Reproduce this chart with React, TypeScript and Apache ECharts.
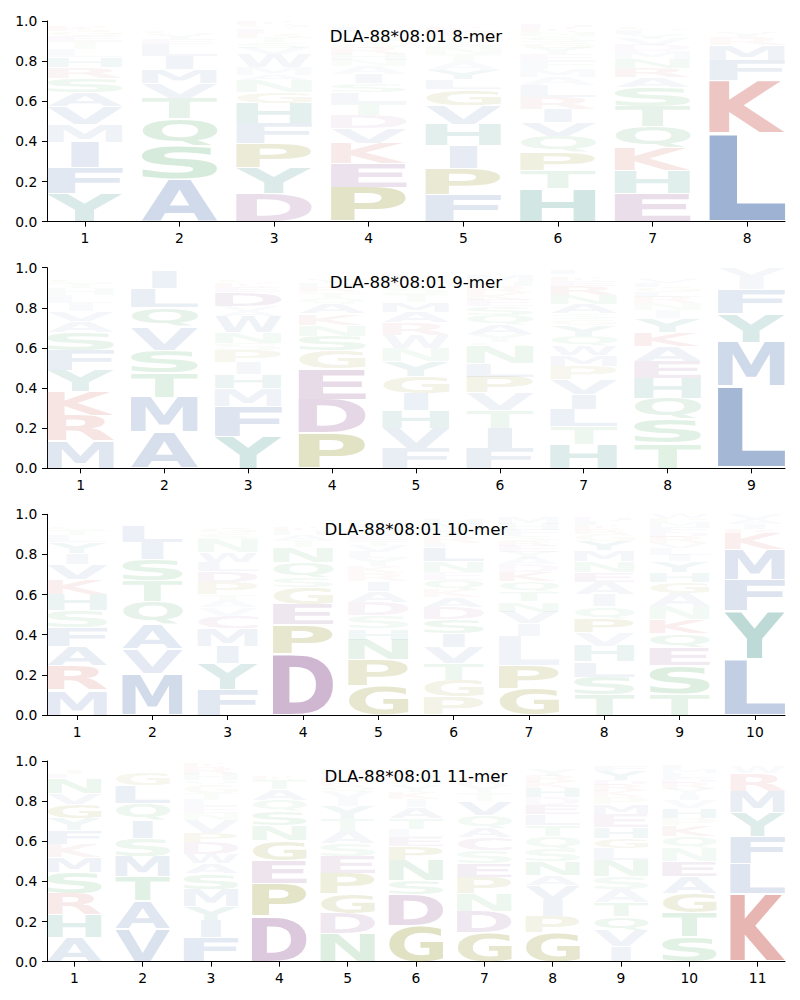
import React, { useEffect, useRef } from "react";
import * as echarts from "echarts";

const ALLELE = "DLA-88*08:01";
const PEPTIDE_LENGTHS = [8, 9, 10, 11];
const Y_TICKS = [0, 0.2, 0.4, 0.6, 0.8, 1.0];

// Letters of each position, stacked bottom -> top, with their heights (frequencies)
const mer8Letters = [
  "YFIMVASRHLTEGKNQ",
  "ASQTVMILEYGFND",
  "DYPFHGNAMWVSTREQK",
  "PEKVDTLSIANHRGQYMFWC",
  "FPIHVGLYATNSQEKRD",
  "HTPQVIRLAMFEYGSNKDC",
  "EHKQTSARNMDVYLGIFW",
  "LKFMRYIVAHWS",
];
const mer8Heights = [
  [0.14, 0.13, 0.125, 0.09, 0.09, 0.07, 0.07, 0.055, 0.05, 0.04, 0.04, 0.025, 0.025, 0.025, 0.015, 0.01],
  [0.21, 0.17, 0.135, 0.10, 0.075, 0.07, 0.065, 0.06, 0.025, 0.025, 0.02, 0.015, 0.015, 0.015],
  [0.14, 0.13, 0.12, 0.10, 0.10, 0.055, 0.06, 0.025, 0.04, 0.065, 0.03, 0.03, 0.025, 0.02, 0.02, 0.02, 0.02],
  [0.17, 0.12, 0.10, 0.075, 0.065, 0.06, 0.055, 0.045, 0.045, 0.04, 0.03, 0.03, 0.03, 0.025, 0.02, 0.02, 0.02, 0.02, 0.015, 0.015],
  [0.135, 0.13, 0.115, 0.105, 0.095, 0.08, 0.05, 0.045, 0.04, 0.04, 0.035, 0.03, 0.025, 0.025, 0.02, 0.015, 0.015],
  [0.165, 0.09, 0.09, 0.08, 0.07, 0.065, 0.06, 0.06, 0.04, 0.04, 0.04, 0.035, 0.03, 0.03, 0.03, 0.02, 0.02, 0.02, 0.015],
  [0.14, 0.115, 0.115, 0.105, 0.10, 0.095, 0.05, 0.045, 0.045, 0.04, 0.03, 0.03, 0.025, 0.02, 0.02, 0.01, 0.01, 0.005],
  [0.44, 0.265, 0.10, 0.075, 0.04, 0.025, 0.015, 0.012, 0.01, 0.008, 0.005, 0.005],
];

const mer9Letters = [
  "MRKYFSAVILHTGENQD",
  "AMTSVQLIFG",
  "YFMHIPSNWAVDEKGQLRT",
  "PDEGSNKAQTRHYLVIM",
  "FVHIGYNWRAMTSKQLED",
  "FITVPLNGYAQSEKRHMDWC",
  "HTLIVPMWQYGSANREKDFC",
  "TSQHEAKYINRLGFVMDWP",
  "LMYFIV",
];
const mer9Heights = [
  [0.137, 0.125, 0.12, 0.105, 0.10, 0.09, 0.055, 0.05, 0.04, 0.04, 0.035, 0.025, 0.02, 0.015, 0.015, 0.015, 0.013],
  [0.18, 0.175, 0.12, 0.115, 0.115, 0.095, 0.095, 0.085, 0.01, 0.01],
  [0.16, 0.15, 0.09, 0.07, 0.06, 0.06, 0.035, 0.055, 0.08, 0.025, 0.025, 0.07, 0.025, 0.02, 0.02, 0.015, 0.01, 0.015, 0.015],
  [0.175, 0.17, 0.15, 0.09, 0.075, 0.055, 0.055, 0.05, 0.03, 0.03, 0.025, 0.02, 0.02, 0.015, 0.015, 0.015, 0.01],
  [0.10, 0.10, 0.09, 0.085, 0.085, 0.075, 0.065, 0.065, 0.06, 0.055, 0.05, 0.04, 0.035, 0.025, 0.02, 0.02, 0.015, 0.015],
  [0.10, 0.10, 0.09, 0.085, 0.08, 0.07, 0.085, 0.02, 0.04, 0.045, 0.05, 0.045, 0.03, 0.035, 0.035, 0.02, 0.03, 0.015, 0.015, 0.01],
  [0.12, 0.09, 0.085, 0.075, 0.075, 0.065, 0.055, 0.045, 0.05, 0.055, 0.03, 0.025, 0.05, 0.045, 0.045, 0.025, 0.02, 0.015, 0.02, 0.01],
  [0.125, 0.12, 0.105, 0.10, 0.085, 0.075, 0.07, 0.07, 0.04, 0.035, 0.03, 0.025, 0.025, 0.02, 0.02, 0.015, 0.015, 0.015, 0.01],
  [0.41, 0.22, 0.14, 0.12, 0.06, 0.05],
];

const mer10Letters = [
  "MRAFSHKVIYLTGENQDP",
  "MVAQTSILEYGFN",
  "FYIMCVATPDLWNSGQEKRH",
  "DPEGSQNTAHKRYVLIM",
  "GPNHSDAIRKYLVTEQFMWC",
  "PGTVISDAKQENLFRYMHWC",
  "GPLIVNTQKDAYERSFHMWC",
  "TSLHVPQIAENMYGRKFDWC",
  "TSEQKNAGHYILVRDFMPW",
  "LYFMKRIAV",
];
const mer10Heights = [
  [0.125, 0.12, 0.095, 0.095, 0.085, 0.08, 0.075, 0.075, 0.055, 0.055, 0.035, 0.025, 0.02, 0.015, 0.015, 0.01, 0.01, 0.01],
  [0.205, 0.125, 0.12, 0.115, 0.105, 0.105, 0.085, 0.08, 0.015, 0.015, 0.015, 0.01, 0.005],
  [0.13, 0.125, 0.085, 0.09, 0.065, 0.04, 0.035, 0.03, 0.06, 0.055, 0.045, 0.05, 0.065, 0.03, 0.025, 0.015, 0.015, 0.015, 0.015, 0.01],
  [0.305, 0.145, 0.10, 0.085, 0.05, 0.075, 0.075, 0.035, 0.025, 0.02, 0.02, 0.015, 0.015, 0.01, 0.01, 0.01, 0.005],
  [0.145, 0.13, 0.10, 0.055, 0.065, 0.065, 0.055, 0.05, 0.04, 0.035, 0.04, 0.03, 0.03, 0.03, 0.025, 0.035, 0.02, 0.02, 0.015, 0.015],
  [0.09, 0.085, 0.08, 0.08, 0.07, 0.07, 0.06, 0.05, 0.04, 0.045, 0.04, 0.055, 0.07, 0.02, 0.035, 0.03, 0.03, 0.025, 0.015, 0.01],
  [0.13, 0.115, 0.15, 0.06, 0.06, 0.05, 0.05, 0.05, 0.045, 0.04, 0.03, 0.03, 0.03, 0.025, 0.025, 0.03, 0.03, 0.03, 0.015, 0.005],
  [0.10, 0.09, 0.075, 0.08, 0.065, 0.07, 0.06, 0.06, 0.06, 0.05, 0.055, 0.055, 0.045, 0.035, 0.025, 0.02, 0.02, 0.02, 0.01, 0.005],
  [0.105, 0.14, 0.09, 0.07, 0.07, 0.065, 0.065, 0.055, 0.05, 0.055, 0.03, 0.035, 0.025, 0.03, 0.025, 0.025, 0.025, 0.02, 0.02],
  [0.28, 0.24, 0.155, 0.15, 0.08, 0.02, 0.025, 0.025, 0.025],
];

const mer11Letters = [
  "AHRSMKFYGVNETQLID",
  "VATMSIQLGFEKDN",
  "FIYMSAWDPVNELTGQHRKC",
  "DPEGNSQATKRLIVYMF",
  "NDGPESATYIVQKRLHMFW",
  "GDSNPELTAIKYQVRHMFW",
  "GDNPESCAQVTYRKLIHMFW",
  "GPIVANSQTLEDHKRYMFW",
  "IVQTASNLGHEMPKRDYFWC",
  "STGAENQKPHVIYRDLMFWC",
  "KLFYMRWIV",
];
const mer11Heights = [
  [0.12, 0.115, 0.105, 0.105, 0.075, 0.065, 0.07, 0.06, 0.07, 0.055, 0.075, 0.02, 0.02, 0.015, 0.01, 0.01, 0.01],
  [0.165, 0.14, 0.12, 0.10, 0.09, 0.09, 0.085, 0.09, 0.065, 0.015, 0.01, 0.01, 0.01, 0.01],
  [0.12, 0.085, 0.07, 0.085, 0.08, 0.05, 0.045, 0.06, 0.045, 0.065, 0.035, 0.035, 0.03, 0.035, 0.04, 0.025, 0.03, 0.035, 0.02, 0.01],
  [0.225, 0.165, 0.115, 0.10, 0.075, 0.07, 0.055, 0.055, 0.045, 0.02, 0.015, 0.015, 0.01, 0.01, 0.01, 0.01, 0.005],
  [0.14, 0.10, 0.10, 0.10, 0.085, 0.065, 0.06, 0.06, 0.065, 0.04, 0.03, 0.03, 0.025, 0.02, 0.02, 0.02, 0.015, 0.015, 0.01],
  [0.18, 0.155, 0.07, 0.10, 0.07, 0.045, 0.04, 0.055, 0.055, 0.04, 0.035, 0.03, 0.025, 0.025, 0.02, 0.015, 0.015, 0.015, 0.01],
  [0.145, 0.105, 0.09, 0.08, 0.07, 0.065, 0.065, 0.045, 0.065, 0.07, 0.04, 0.04, 0.02, 0.02, 0.015, 0.015, 0.015, 0.01, 0.01, 0.015],
  [0.145, 0.08, 0.08, 0.075, 0.05, 0.07, 0.06, 0.065, 0.055, 0.055, 0.045, 0.04, 0.045, 0.03, 0.03, 0.035, 0.015, 0.015, 0.01],
  [0.075, 0.08, 0.07, 0.07, 0.065, 0.065, 0.08, 0.06, 0.05, 0.055, 0.065, 0.05, 0.035, 0.03, 0.03, 0.025, 0.045, 0.025, 0.015, 0.01],
  [0.125, 0.12, 0.095, 0.085, 0.075, 0.065, 0.06, 0.055, 0.035, 0.05, 0.04, 0.025, 0.03, 0.03, 0.025, 0.025, 0.02, 0.02, 0.01, 0.01],
  [0.34, 0.15, 0.135, 0.12, 0.105, 0.09, 0.03, 0.015, 0.015],
];

// letters that are drawn paler than their height suggests: [peptide length, position, letter, opacity]
const fadedLetters: [number, number, string, number][] = [
  [10, 7, "L", 0.09],
];

const PANELS = [
  { length: PEPTIDE_LENGTHS[0], letters: mer8Letters, heights: mer8Heights },
  { length: PEPTIDE_LENGTHS[1], letters: mer9Letters, heights: mer9Heights },
  { length: PEPTIDE_LENGTHS[2], letters: mer10Letters, heights: mer10Heights },
  { length: PEPTIDE_LENGTHS[3], letters: mer11Letters, heights: mer11Heights },
];

const LETTER_CODES = "ACDEFGHIKLMNPQRSTVWY";
const GROUP_COLORS: Record<string, string> = {
  hydrophobic: "rgb(85,121,178)",
  basic: "rgb(202,91,82)",
  acidic: "rgb(135,73,140)",
  special: "rgb(128,128,0)",
  polar: "rgb(70,165,90)",
  aromatic: "rgb(45,138,126)",
};
const LETTER_GROUP: Record<string, string> = {
  A: "hydrophobic", V: "hydrophobic", L: "hydrophobic", I: "hydrophobic",
  M: "hydrophobic", F: "hydrophobic", W: "hydrophobic",
  K: "basic", R: "basic",
  D: "acidic", E: "acidic", C: "acidic",
  P: "special", G: "special",
  S: "polar", T: "polar", N: "polar", Q: "polar",
  H: "aromatic", Y: "aromatic",
};

const FONT_PX = 100;
const GLYPH_FONT = `bold ${FONT_PX}px "DejaVu Sans"`;
const LABEL_FONT = "DejaVu Sans";
const ALPHA_GAIN = 1.3;
const VPAD = 0.045;
const HALF_W = 0.4;

// layout
const GRID_LEFT = 47;
const GRID_RIGHT = 15;
const FIRST_TOP = 21;
const PANEL_STEP = 246.67;
const PLOT_H = 200.67;

type GlyphMetric = { l: number; r: number; a: number; d: number };

function measureGlyphs(): { m: Record<string, GlyphMetric>; c: number } {
  const canvas = document.createElement("canvas");
  const ctx = canvas.getContext("2d") as CanvasRenderingContext2D;
  ctx.font = GLYPH_FONT;
  ctx.textAlign = "left";
  ctx.textBaseline = "alphabetic";
  const m: Record<string, GlyphMetric> = {};
  for (const ch of LETTER_CODES) {
    const t = ctx.measureText(ch);
    m[ch] = {
      l: -t.actualBoundingBoxLeft,
      r: t.actualBoundingBoxRight,
      a: t.actualBoundingBoxAscent,
      d: t.actualBoundingBoxDescent,
    };
  }
  // offset between SVG 'central' baseline and alphabetic baseline
  let c = 0.346 * FONT_PX;
  try {
    const ns = "http://www.w3.org/2000/svg";
    const svg = document.createElementNS(ns, "svg");
    svg.setAttribute("width", "400");
    svg.setAttribute("height", "400");
    (svg as any).style.position = "absolute";
    (svg as any).style.left = "-2000px";
    (svg as any).style.top = "0px";
    document.body.appendChild(svg);
    const mk = (db: string | null) => {
      const t = document.createElementNS(ns, "text");
      t.setAttribute("x", "0");
      t.setAttribute("y", "200");
      if (db) t.setAttribute("dominant-baseline", db);
      t.setAttribute("style", "font: " + GLYPH_FONT);
      t.textContent = "E";
      svg.appendChild(t);
      return t as SVGTextElement;
    };
    const a = mk(null);
    const b = mk("central");
    const v = b.getBBox().y - a.getBBox().y;
    if (isFinite(v) && Math.abs(v) > 1) c = v;
    document.body.removeChild(svg);
  } catch (e) {
    // keep fallback
  }
  return { m, c };
}

function buildStack(length: number, letters: string[], heights: number[][]) {
  const out: number[][] = [];
  letters.forEach((col, i) => {
    let base = 0;
    col.split("").forEach((ch, j) => {
      const h = heights[i][j];
      const fade = fadedLetters.find((f) => f[0] === length && f[1] === i + 1 && f[2] === ch);
      const alpha = fade ? fade[3] : Math.min(1, ALPHA_GAIN * h);
      out.push([i + 1, base, base + h, LETTER_CODES.indexOf(ch), alpha]);
      base += h;
    });
  });
  return out;
}

export default function App() {
  const ref = useRef<HTMLDivElement>(null);

  useEffect(() => {
    if (!ref.current) return;
    const { m, c } = measureGlyphs();
    const cEm = c / FONT_PX;
    const chart = echarts.init(ref.current, undefined, { renderer: "svg" });

    const grids: any[] = [];
    const xAxes: any[] = [];
    const yAxes: any[] = [];
    const series: any[] = [];
    const graphics: any[] = [];

    PANELS.forEach((p, i) => {
      const top = FIRST_TOP + PANEL_STEP * i;
      grids.push({ left: GRID_LEFT, right: GRID_RIGHT, top, height: PLOT_H, containLabel: false });
      const positions = Array.from({ length: p.length }, (_, k) => k + 1);
      xAxes.push({
        type: "value",
        gridIndex: i,
        min: 1 - HALF_W - 0.0001,
        max: p.length + HALF_W,
        axisLine: { show: true, onZero: false, lineStyle: { color: "#000", width: 1 } },
        axisTick: { show: true, length: 5, customValues: positions, lineStyle: { color: "#000", width: 1 } },
        axisLabel: {
          show: true,
          customValues: positions,
          color: "#000",
          fontSize: 13.89,
          fontFamily: LABEL_FONT,
          margin: 9.7,
          formatter: (v: number) => String(Math.round(v)),
        },
        splitLine: { show: false },
      });
      yAxes.push({
        type: "value",
        gridIndex: i,
        min: 0,
        max: 1,
        interval: 0.2,
        axisLine: { show: true, onZero: false, lineStyle: { color: "#000", width: 1 } },
        axisTick: { show: true, length: 5, customValues: Y_TICKS, lineStyle: { color: "#000", width: 1 } },
        axisLabel: {
          show: true,
          customValues: Y_TICKS,
          color: "#000",
          fontSize: 13.89,
          fontFamily: LABEL_FONT,
          margin: 9.7,
          formatter: (v: number) => v.toFixed(1),
        },
        splitLine: { show: false },
      });

      series.push({
        type: "custom",
        xAxisIndex: i,
        yAxisIndex: i,
        silent: true,
        clip: false,
        data: buildStack(p.length, p.letters, p.heights),
        encode: { x: 0, y: [1, 2] },
        renderItem: (_params: any, api: any) => {
          const pos = api.value(0);
          const y0 = api.value(1);
          const y1 = api.value(2);
          const ch = LETTER_CODES[api.value(3)];
          const alpha = api.value(4);
          const g = m[ch];
          const h = y1 - y0;
          const pad = (h * VPAD) / 2;
          const pBL = api.coord([pos - HALF_W, y0 + pad]);
          const pTR = api.coord([pos + HALF_W, y1 - pad]);
          const boxW = pTR[0] - pBL[0];
          const boxH = pBL[1] - pTR[1];
          const gw = Math.max(1e-6, g.r - g.l);
          const gh = Math.max(1e-6, g.a + g.d);
          const targetW = ch === "I" ? boxW * 0.365 : boxW;
          const sx = targetW / gw;
          const sy = boxH / gh;
          const xc = (pBL[0] + pTR[0]) / 2;
          const x = xc - sx * ((g.l + g.r) / 2);
          const y = pTR[1] - sy * (c - g.a);
          return {
            type: "text",
            x,
            y,
            scaleX: sx,
            scaleY: sy,
            silent: true,
            style: {
              text: ch,
              x: 0,
              y: 0,
              font: GLYPH_FONT,
              fill: GROUP_COLORS[LETTER_GROUP[ch]],
              opacity: alpha,
              align: "left",
              verticalAlign: "middle",
            },
          };
        },
      });

      const titleSize = 16.67;
      graphics.push({
        type: "text",
        x: GRID_LEFT + (800 - GRID_LEFT - GRID_RIGHT) / 2,
        y: top + 21 - cEm * titleSize,
        silent: true,
        z: 100,
        style: {
          text: `${ALLELE} ${p.length}-mer`,
          font: `${titleSize}px "${LABEL_FONT}"`,
          fill: "#000",
          align: "center",
          verticalAlign: "middle",
        },
      });
    });

    chart.setOption({
      animation: false,
      backgroundColor: "#ffffff",
      grid: grids,
      xAxis: xAxes,
      yAxis: yAxes,
      series,
      graphic: graphics,
    });

    return () => {
      chart.dispose();
    };
  }, []);

  return (
    <div
      ref={ref}
      style={{ position: "fixed", left: 0, top: 0, width: 800, height: 1000, background: "#fff" }}
    />
  );
}
